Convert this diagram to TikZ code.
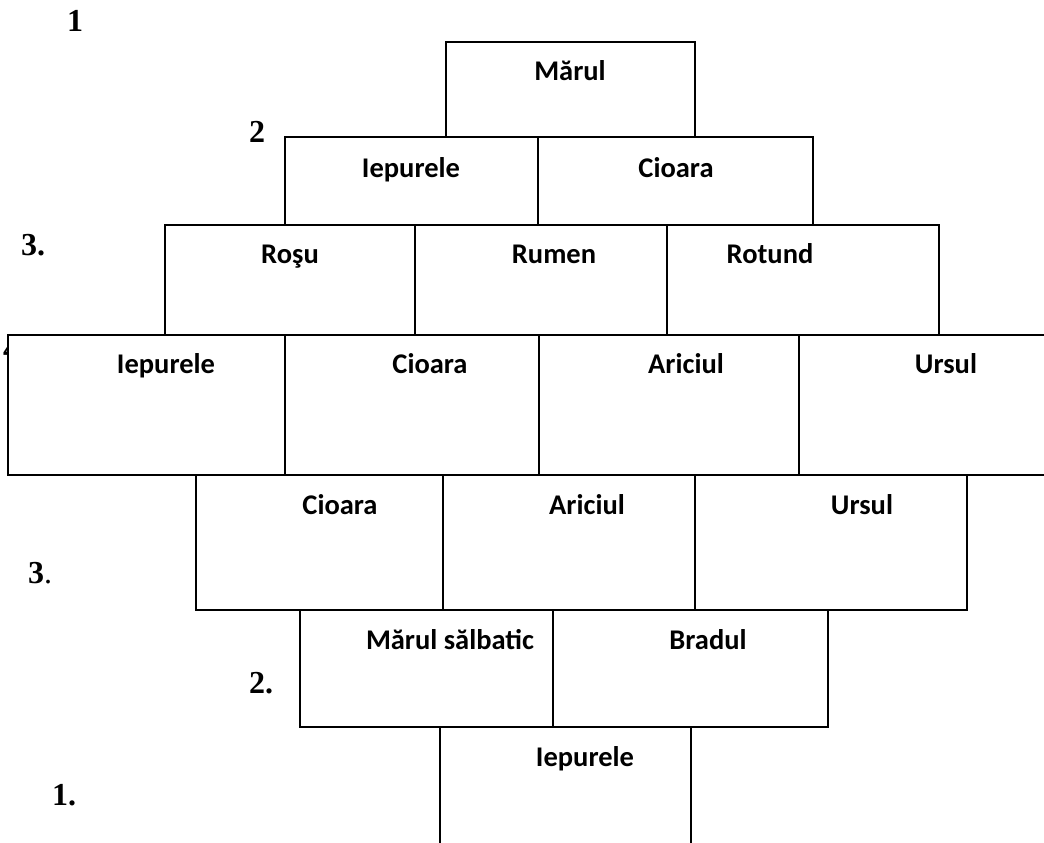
\documentclass[tikz,border=0pt]{standalone}
\usepackage{fontspec}
\setmainfont{Carlito}
\newfontfamily\lblfont{Liberation Serif}
\begin{document}
\begin{tikzpicture}[x=1pt,y=-1pt,
  cell/.style={draw=black,line width=1.6pt,fill=white},
  edge/.style={draw=black,line width=1.6pt},
  txt/.style={font=\fontsize{28.5}{30}\selectfont\bfseries,anchor=base,inner sep=0pt},
  lbl/.style={font=\lblfont\fontsize{32}{34}\selectfont\bfseries,anchor=base west,inner sep=0pt}]
\useasboundingbox (0,0) rectangle (1044,843);
\clip (0,0) rectangle (1044,843);
\fill[white] (0,0) rectangle (1044,843);

% row labels
\node[lbl] (l1) at (67,32) {1};
\node[lbl] (l2) at (249,142) {2};
\node[lbl] (l3) at (21,255) {3.};
\node[lbl] (l4) at (3,359) {4};
\node[lbl] (l5) at (28,583) {3\textmd{.}};
\node[lbl] (l6) at (249,693) {2.};
\node[lbl] (l7) at (52,805) {1.};

% row 1
\draw[cell] (446,42) rectangle (695,137);
% row 2
\draw[cell] (285,137) rectangle (813,225);
\draw[edge] (538,137) -- (538,225);
% row 3
\draw[cell] (165,225) rectangle (939,335);
\draw[edge] (415,225) -- (415,335);
\draw[edge] (667,225) -- (667,335);
% row 4 (open to the right)
\draw[cell] (1060,335) -- (8,335) -- (8,475) -- (1060,475);
\draw[edge] (285,335) -- (285,475);
\draw[edge] (539,335) -- (539,475);
\draw[edge] (799,335) -- (799,475);
% row 5
\draw[cell] (196,475) rectangle (967,610);
\draw[edge] (443,475) -- (443,610);
\draw[edge] (695,475) -- (695,610);
% row 6
\draw[cell] (300,610) rectangle (828,727);
\draw[edge] (553,610) -- (553,727);
% row 7 (open at the bottom)
\draw[edge] (440,727) -- (440,860);
\draw[edge] (691,727) -- (691,860);

% texts
\node[txt] (t1) at (570,81) {Mărul};
\node[txt] (t2a) at (411,177) {Iepurele};
\node[txt] (t2b) at (676,177) {Cioara};
\node[txt] (t3a) at (290,263) {Roşu};
\node[txt] (t3b) at (554,263) {Rumen};
\node[txt] (t3c) at (770,263) {Rotund};
\node[txt] (t4a) at (166,373) {Iepurele};
\node[txt] (t4b) at (430,373) {Cioara};
\node[txt] (t4c) at (686,373) {Ariciul};
\node[txt] (t4d) at (946,373) {Ursul};
\node[txt] (t5a) at (340,514) {Cioara};
\node[txt] (t5b) at (587,514) {Ariciul};
\node[txt] (t5c) at (862,514) {Ursul};
\node[txt] (t6a) at (450,649) {Mărul sălbatic};
\node[txt] (t6b) at (708,649) {Bradul};
\node[txt] (t7) at (585,766) {Iepurele};
\end{tikzpicture}
\end{document}
